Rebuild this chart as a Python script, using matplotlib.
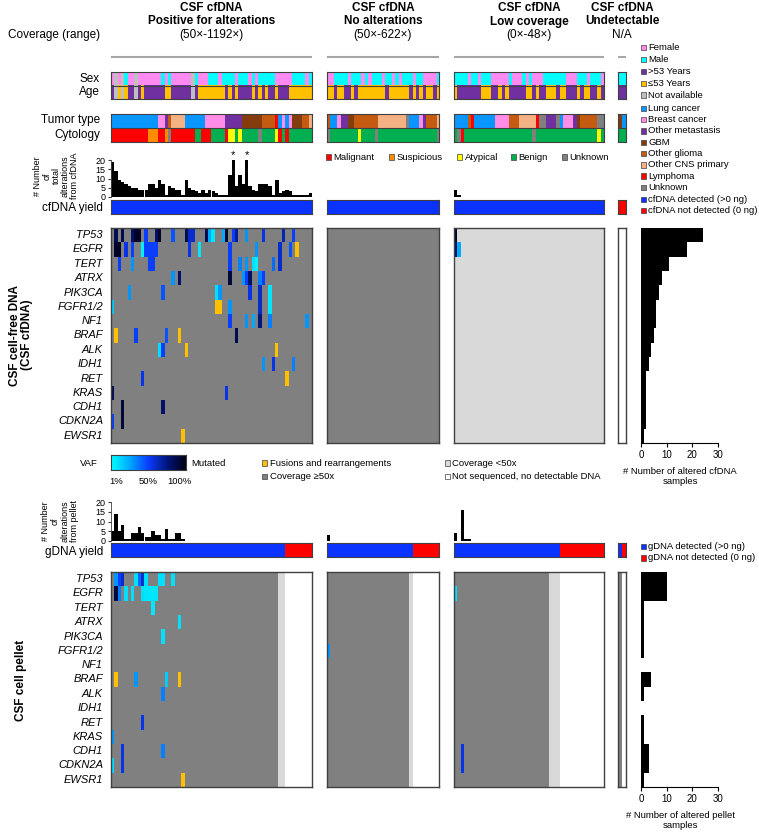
import numpy as np
import matplotlib
matplotlib.use("Agg")
import matplotlib.pyplot as plt
from matplotlib.colors import LinearSegmentedColormap, to_rgb
from matplotlib.patches import Rectangle

plt.rcParams['font.family'] = ['Liberation Sans', 'DejaVu Sans']

# ---------------------------------------------------------------- data
genes = ["TP53", "EGFR", "TERT", "ATRX", "PIK3CA", "FGFR1/2", "NF1", "BRAF",
         "ALK", "IDH1", "RET", "KRAS", "CDH1", "CDKN2A", "EWSR1"]

title_line1 = ["CSF cfDNA", "CSF cfDNA", "CSF cfDNA", "CSF cfDNA"]
title_line2 = ["Positive for alterations", "No alterations", "Low coverage", "Undetectable"]
coverage_range = ["(50×-1192×)", "(50×-622×)", "(0×-48×)", "N/A"]
n_samples = [60, 33, 44, 2]

# run-length encoded annotation tracks (code, count)
sex_runs = [
    [("F", 1), ("N", 1), ("F", 1), ("N", 1), ("M", 1), ("F", 2), ("N", 1), ("F", 7), ("M", 1), ("F", 1),
     ("M", 1), ("F", 6), ("N", 1), ("M", 1), ("F", 3), ("M", 3), ("F", 1), ("M", 4), ("F", 1), ("M", 3),
     ("F", 1), ("M", 1), ("F", 1), ("M", 5), ("F", 5), ("M", 4), ("F", 1), ("M", 1)],
    [("F", 2), ("M", 4), ("F", 1), ("M", 3), ("F", 1), ("M", 1), ("F", 1), ("M", 3), ("F", 1), ("M", 2),
     ("F", 1), ("M", 1), ("F", 1), ("M", 3), ("F", 1), ("M", 2), ("F", 4), ("M", 1)],
    [("M", 4), ("F", 1), ("M", 2), ("F", 1), ("M", 3), ("F", 5), ("M", 1), ("F", 3), ("M", 1), ("F", 1),
     ("M", 1), ("F", 3), ("M", 7), ("F", 3), ("M", 3), ("F", 1), ("M", 3), ("F", 1)],
    [("M", 2)],
]
age_runs = [
    [("O", 1), ("N", 1), ("Y", 1), ("N", 1), ("Y", 1), ("O", 2), ("N", 1), ("O", 1), ("Y", 1), ("O", 6),
     ("Y", 2), ("O", 6), ("N", 1), ("O", 1), ("Y", 8), ("O", 1), ("Y", 1), ("O", 1), ("Y", 1), ("O", 4),
     ("Y", 1), ("O", 1), ("Y", 1), ("O", 1), ("Y", 1), ("O", 2), ("Y", 1), ("O", 3), ("Y", 7)],
    [("Y", 2), ("O", 1), ("Y", 2), ("O", 2), ("Y", 1), ("O", 1), ("Y", 8), ("O", 1), ("Y", 6), ("O", 1),
     ("Y", 1), ("O", 1), ("Y", 1), ("O", 1), ("Y", 2), ("O", 1), ("Y", 1)],
    [("Y", 1), ("O", 7), ("Y", 3), ("O", 2), ("Y", 1), ("O", 1), ("Y", 1), ("O", 5), ("Y", 2), ("O", 1),
     ("Y", 1), ("O", 2), ("Y", 3), ("O", 1), ("Y", 2), ("O", 3), ("Y", 1), ("O", 1), ("Y", 2), ("O", 2),
     ("Y", 1), ("O", 1)],
    [("O", 2)],
]
tumor_runs = [
    [("Lung", 14), ("Breast", 2), ("Met", 1), ("Glioma", 1), ("CNS", 4), ("Lung", 6), ("Breast", 6),
     ("Met", 5), ("GBM", 6), ("Glioma", 4), ("Lymph", 1), ("Lung", 1), ("Breast", 1), ("Lung", 1),
     ("Breast", 1), ("GBM", 3), ("Glioma", 2), ("CNS", 1)],
    [("Glioma", 1), ("Lung", 2), ("Breast", 1), ("Met", 2), ("GBM", 2), ("Glioma", 7), ("CNS", 8),
     ("Unk", 1), ("Lung", 3), ("Breast", 1), ("Met", 1), ("Glioma", 3), ("CNS", 1)],
    [("Lung", 4), ("Glioma", 1), ("Lymph", 1), ("Lung", 6), ("Breast", 4), ("Glioma", 3), ("CNS", 5),
     ("Lymph", 1), ("Unk", 2), ("Met", 3), ("Unk", 1), ("Lung", 1), ("Breast", 3), ("Met", 1),
     ("GBM", 1), ("Glioma", 5), ("Unk", 2)],
    [("GBM", 1), ("Lung", 1)],
]
cyto_runs = [
    [("Mal", 11), ("Sus", 3), ("Mal", 2), ("Sus", 1), ("Unk", 1), ("Mal", 7), ("Ben", 2), ("Mal", 3),
     ("Ben", 4), ("Mal", 1), ("Aty", 2), ("Ben", 1), ("Aty", 1), ("Ben", 5), ("Unk", 1), ("Ben", 4),
     ("Aty", 1), ("Mal", 1), ("Ben", 1), ("Mal", 1), ("Ben", 7)],
    [("Unk", 1), ("Ben", 8), ("Aty", 1), ("Ben", 4), ("Unk", 1), ("Ben", 17), ("Unk", 1)],
    [("Ben", 1), ("Unk", 1), ("Mal", 1), ("Ben", 20), ("Unk", 1), ("Ben", 18), ("Aty", 1), ("Ben", 1)],
    [("Ben", 2)],
]
cfdna_yield_runs = [[("D", 60)], [("D", 33)], [("D", 44)], [("X", 2)]]
gdna_yield_runs = [[("D", 52), ("X", 8)], [("D", 25), ("X", 8)], [("D", 31), ("X", 13)], [("D", 1), ("X", 1)]]
cf_coverage_runs = [[("hi", 60)], [("hi", 33)], [("lo", 44)], [("none", 2)]]
pellet_coverage_runs = [[("hi", 50), ("lo", 2), ("none", 8)], [("hi", 24), ("lo", 1), ("none", 8)],
                        [("hi", 28), ("lo", 3), ("none", 13)], [("hi", 1), ("none", 1)]]

# total alterations per sample (leading samples; rest are zero)
cf_total_alt = [
    [19, 14, 9, 8, 7, 6, 5, 5, 4, 4, 4, 7, 7, 5, 9, 7, 1, 6, 5, 4, 4, 1, 9, 5, 4, 3, 2, 4, 2, 4,
     3, 2, 1, 1, 1, 12, 20, 6, 12, 7, 20, 6, 4, 3, 7, 7, 7, 6, 1, 9, 2, 3, 4, 3, 1, 1, 1, 1, 1, 2],
    [],
    [4, 1],
    [],
]
star_samples = [36, 40]
pellet_total_alt = [
    [5, 14, 5, 8, 1, 1, 4, 4, 7, 4, 2, 2, 5, 3, 3, 1, 6, 1, 1, 4, 4, 1],
    [3],
    [4, 0, 16, 1, 1],
    [],
]

# mutations: (gene, sample index, VAF % or "F" = fusion/rearrangement)
cf_mut_p1 = [
    ("TP53", 1, 85), ("TP53", 3, 85), ("TP53", 6, 80), ("TP53", 7, 95), ("TP53", 8, 95), ("TP53", 10, 50),
    ("TP53", 13, 80), ("TP53", 14, 95), ("TP53", 18, 45), ("TP53", 22, 85), ("TP53", 23, 60), ("TP53", 24, 60),
    ("TP53", 28, 85), ("TP53", 29, 25), ("TP53", 30, 8), ("TP53", 33, 25), ("TP53", 34, 95), ("TP53", 36, 50),
    ("TP53", 37, 70), ("TP53", 40, 30), ("TP53", 45, 55), ("TP53", 51, 65), ("TP53", 54, 50),
    ("EGFR", 1, 95), ("EGFR", 2, 95), ("EGFR", 4, 55), ("EGFR", 6, 50), ("EGFR", 9, 5), ("EGFR", 10, 50),
    ("EGFR", 11, 50), ("EGFR", 12, 50), ("EGFR", 13, 50), ("EGFR", 23, 55), ("EGFR", 26, 8), ("EGFR", 35, 50),
    ("EGFR", 43, 30), ("EGFR", 50, 60), ("EGFR", 53, 45), ("EGFR", 55, "F"),
    ("TERT", 2, 50), ("TERT", 6, 30), ("TERT", 11, 50), ("TERT", 12, 50), ("TERT", 35, 50), ("TERT", 38, 35),
    ("TERT", 40, 30), ("TERT", 42, 10), ("TERT", 43, 5), ("TERT", 48, 40), ("TERT", 50, 60),
    ("ATRX", 18, 30), ("ATRX", 20, 80), ("ATRX", 35, 90), ("ATRX", 39, 30), ("ATRX", 40, 50), ("ATRX", 41, 80),
    ("ATRX", 44, 35), ("ATRX", 45, 50),
    ("PIK3CA", 5, 30), ("PIK3CA", 15, 45), ("PIK3CA", 31, 10), ("PIK3CA", 32, 30), ("PIK3CA", 41, 55),
    ("PIK3CA", 44, 60), ("PIK3CA", 47, 8),
    ("FGFR1/2", 0, 15), ("FGFR1/2", 31, "F"), ("FGFR1/2", 32, "F"), ("FGFR1/2", 35, 30), ("FGFR1/2", 44, 60),
    ("FGFR1/2", 47, 8),
    ("NF1", 35, 50), ("NF1", 40, 30), ("NF1", 42, 25), ("NF1", 44, 75), ("NF1", 47, 35), ("NF1", 58, 30),
    ("BRAF", 1, "F"), ("BRAF", 7, 50), ("BRAF", 16, 45), ("BRAF", 20, "F"), ("BRAF", 37, 85),
    ("ALK", 14, 10), ("ALK", 15, 50), ("ALK", 22, "F"), ("ALK", 49, "F"),
    ("IDH1", 45, 30), ("IDH1", 48, 55), ("IDH1", 54, 35),
    ("RET", 9, 55), ("RET", 52, "F"),
    ("KRAS", 0, 85), ("KRAS", 34, 55),
    ("CDH1", 3, 90), ("CDH1", 15, 80),
    ("CDKN2A", 0, 50), ("CDKN2A", 3, 90),
    ("EWSR1", 21, "F"),
]
cf_mut_p2 = []
cf_mut_p3 = [("TP53", 0, 95), ("EGFR", 0, 80), ("EGFR", 1, 25)]
cf_mut_p4 = []

pellet_mut_p1 = [
    ("TP53", 1, 30), ("TP53", 2, 50), ("TP53", 3, 60), ("TP53", 7, 10), ("TP53", 8, 40), ("TP53", 9, 60),
    ("TP53", 10, 10), ("TP53", 14, 10), ("TP53", 15, 10), ("TP53", 18, 10),
    ("EGFR", 1, 90), ("EGFR", 2, 35), ("EGFR", 4, 10), ("EGFR", 6, 10), ("EGFR", 9, 10), ("EGFR", 10, 8),
    ("EGFR", 11, 8), ("EGFR", 12, 8), ("EGFR", 13, 8),
    ("TERT", 12, 8), ("ATRX", 20, 10), ("PIK3CA", 15, 10),
    ("BRAF", 1, "F"), ("BRAF", 7, 30), ("BRAF", 16, 15), ("BRAF", 20, "F"),
    ("ALK", 15, 35), ("RET", 9, 55), ("KRAS", 0, 30),
    ("CDH1", 3, 55), ("CDH1", 15, 35), ("CDKN2A", 0, 12), ("CDKN2A", 3, 55),
    ("EWSR1", 21, "F"),
]
pellet_mut_p2 = [("FGFR1/2", 0, 30)]
pellet_mut_p3 = [("EGFR", 0, 10), ("CDH1", 2, 55), ("CDKN2A", 2, 55)]
pellet_mut_p4 = []

cf_gene_counts = [24, 18, 11, 8, 7, 6, 6, 5, 4, 3, 2, 2, 2, 2, 1]
pellet_gene_counts = [10, 10, 1, 1, 1, 1, 0, 4, 1, 0, 1, 1, 3, 3, 1]

# ---------------------------------------------------------------- styles
sex_colors = {"F": "#FF8AF2", "M": "#00FFFF", "N": "#BFBFBF"}
age_colors = {"O": "#7030A0", "Y": "#FFC000", "N": "#BFBFBF"}
tumor_colors = {"Lung": "#0A96FF", "Breast": "#FF8CE6", "Met": "#7030A0", "GBM": "#843C0C",
                "Glioma": "#C55A11", "CNS": "#F4B183", "Lymph": "#FF0000", "Unk": "#808080"}
cyto_colors = {"Mal": "#FF0000", "Sus": "#FF8C00", "Aty": "#FFFF00", "Ben": "#00B050", "Unk": "#808080"}
yield_colors = {"D": "#0A33FF", "X": "#FF0000"}
cov_colors = {"hi": "#808080", "lo": "#D9D9D9", "none": "#FFFFFF"}
FUSION = "#FFC000"
EDGE = "#404040"
vaf_cmap = LinearSegmentedColormap.from_list(
    "vaf", ["#00FFFF", "#00A8FF", "#0A3CFF", "#00157A", "#000014"])

W, H = 759, 836
fig = plt.figure(figsize=(W / 100, H / 100), dpi=100)


def px_axes(x0, y0, x1, y1, z=1):
    return fig.add_axes([x0 / W, 1 - y1 / H, (x1 - x0) / W, (y1 - y0) / H], zorder=z)


def expand(runs):
    return [c for c, k in runs for _ in range(k)]


def style_box(ax, lw=0.8, color=EDGE):
    ax.set_xticks([])
    ax.set_yticks([])
    for s in ax.spines.values():
        s.set_color(color)
        s.set_linewidth(lw)


def draw_rows(ax, rows, palettes, n):
    img = np.array([[to_rgb(pal[c]) for c in row] for row, pal in zip(rows, palettes)])
    ax.imshow(img, aspect="auto", interpolation="nearest", extent=(0, n, len(rows), 0))
    for k in range(1, len(rows)):
        ax.axhline(k, color=EDGE, lw=0.8)
    ax.set_xlim(0, n)
    ax.set_ylim(len(rows), 0)
    style_box(ax)


def vaf_color(v):
    if v == "F":
        return to_rgb(FUSION)
    return vaf_cmap(np.clip((v - 1) / 99.0, 0, 1))[:3]


def draw_heat(ax, cov_runs, muts, n):
    cov = expand(cov_runs)
    img = np.array([[to_rgb(cov_colors[c]) for c in cov] for _ in genes])
    for g, c, v in muts:
        img[genes.index(g), c] = vaf_color(v)
    ax.imshow(img, aspect="auto", interpolation="nearest", extent=(0, n, len(genes), 0))
    ax.set_xlim(0, n)
    ax.set_ylim(len(genes), 0)
    style_box(ax, lw=1.0)


def draw_bars(ax, vals_list, n, show_axis):
    vals = np.zeros(n)
    vals[:len(vals_list)] = vals_list
    ax.bar(np.arange(n), vals, width=1.0, align="edge", color="black", linewidth=0)
    ax.set_xlim(0, n)
    ax.set_ylim(0, 20)
    ax.patch.set_alpha(0)
    for s in ax.spines.values():
        s.set_visible(False)
    ax.set_xticks([])
    if show_axis:
        ax.spines["left"].set_visible(True)
        ax.spines["left"].set_color(EDGE)
        ax.spines["left"].set_linewidth(0.6)
        ax.set_yticks([0, 5, 10, 15, 20])
        ax.tick_params(axis="y", labelsize=6.5, length=2, pad=2, color=EDGE)
    else:
        ax.set_yticks([])


panel_x = [(111, 312), (327, 439), (454, 604), (618, 626)]
cf_muts = [cf_mut_p1, cf_mut_p2, cf_mut_p3, cf_mut_p4]
pellet_muts = [pellet_mut_p1, pellet_mut_p2, pellet_mut_p3, pellet_mut_p4]

for p in range(4):
    x0, x1 = panel_x[p]
    n = n_samples[p]
    # sex / age
    ax = px_axes(x0, 72, x1, 99)
    draw_rows(ax, [expand(sex_runs[p]), expand(age_runs[p])], [sex_colors, age_colors], n)
    # tumor / cytology
    ax = px_axes(x0, 114, x1, 142)
    draw_rows(ax, [expand(tumor_runs[p]), expand(cyto_runs[p])], [tumor_colors, cyto_colors], n)
    # cfDNA alteration bars
    ax = px_axes(x0, 160, x1, 197)
    draw_bars(ax, cf_total_alt[p], n, p == 0)
    if p == 0:
        for c in star_samples:
            ax.text(c + 0.5, cf_total_alt[0][c] + 0.2, "*", ha="center", va="bottom",
                    fontsize=8, clip_on=False)
    # cfDNA yield
    ax = px_axes(x0, 200, x1, 214)
    draw_rows(ax, [expand(cfdna_yield_runs[p])], [yield_colors], n)
    # cfDNA heatmap
    ax = px_axes(x0, 228, x1, 443)
    draw_heat(ax, cf_coverage_runs[p], cf_muts[p], n)
    # pellet bars
    ax = px_axes(x0, 502, x1, 541)
    draw_bars(ax, pellet_total_alt[p], n, p == 0)
    # gDNA yield
    ax = px_axes(x0, 543, x1, 557)
    draw_rows(ax, [expand(gdna_yield_runs[p])], [yield_colors], n)
    # pellet heatmap
    ax = px_axes(x0, 572, x1, 787)
    draw_heat(ax, pellet_coverage_runs[p], pellet_muts[p], n)


def right_bars(y0, y1, counts):
    ax = px_axes(641, y0, 718, y1)
    ax.barh(np.arange(len(genes)), counts, height=1.0, align="edge", color="black", linewidth=0)
    ax.set_ylim(len(genes), 0)
    ax.set_xlim(0, 30)
    for s in ["top", "right", "left"]:
        ax.spines[s].set_visible(False)
    ax.spines["bottom"].set_color("black")
    ax.spines["bottom"].set_linewidth(0.8)
    ax.set_yticks([])
    ax.set_xticks([0, 10, 20, 30])
    ax.tick_params(axis="x", labelsize=7, length=3, pad=2)
    ax.patch.set_alpha(0)


right_bars(228, 443, cf_gene_counts)
right_bars(572, 787, pellet_gene_counts)

# VAF colour bar
axc = px_axes(111, 455, 186, 470)
axc.imshow(np.linspace(0, 1, 256)[None, :], aspect="auto", cmap=vaf_cmap, extent=(0, 1, 0, 1))
style_box(axc)

# ---------------------------------------------------------------- overlay text
ov = fig.add_axes([0, 0, 1, 1], zorder=5)
ov.set_xlim(0, W)
ov.set_ylim(H, 0)
ov.axis("off")
ov.patch.set_alpha(0)

FS = 8.5
centers = [211.5, 383, 529, 622]
for p in range(4):
    cx = centers[p]
    ov.text(cx, 8, title_line1[p], ha="center", va="center", fontsize=FS, fontweight="bold")
    ov.text(cx, 21.5, title_line2[p], ha="center", va="center", fontsize=FS, fontweight="bold")
    ov.text(cx, 35, coverage_range[p], ha="center", va="center", fontsize=FS)
    x0, x1 = panel_x[p]
    ov.plot([x0, x1], [57, 57], color="#A6A6A6", lw=1.5, solid_capstyle="butt")

ov.text(100, 35, "Coverage (range)", ha="right", va="center", fontsize=FS)
ov.text(100, 78.5, "Sex", ha="right", va="center", fontsize=FS)
ov.text(100, 92, "Age", ha="right", va="center", fontsize=FS)
ov.text(100, 120.5, "Tumor type", ha="right", va="center", fontsize=FS)
ov.text(100, 135, "Cytology", ha="right", va="center", fontsize=FS)
ov.text(103, 208.5, "cfDNA yield", ha="right", va="center", fontsize=FS)
ov.text(103, 551.5, "gDNA yield", ha="right", va="center", fontsize=FS)
ov.text(56, 176, "# Number\nof\ntotal\nalterations\nfrom cfDNA", ha="center", va="center",
        rotation=90, fontsize=6.5, linespacing=1.05)
ov.text(60, 521, "# Number\nof\nalterations\nfrom pellet", ha="center", va="center",
        rotation=90, fontsize=6.5, linespacing=1.05)

row_h = 215 / 15.0
for i, g in enumerate(genes):
    ov.text(103, 228 + row_h * (i + 0.5), g, ha="right", va="center", fontsize=8, style="italic")
    ov.text(103, 572 + row_h * (i + 0.5), g, ha="right", va="center", fontsize=8, style="italic")

ov.text(21, 335, "CSF cell-free DNA\n(CSF cfDNA)", ha="center", va="center", rotation=90,
        fontsize=FS, fontweight="bold", linespacing=1.1)
ov.text(21, 680, "CSF cell pellet", ha="center", va="center", rotation=90,
        fontsize=FS, fontweight="bold")

LFS = 6.8


def legend_item(x, y, color, label):
    ov.add_patch(Rectangle((x, y - 2.7), 5.4, 5.4, facecolor=color, edgecolor=EDGE, lw=0.5))
    ov.text(x + 7.5, y, label, ha="left", va="center", fontsize=LFS)


right_legend = [
    (47.7, sex_colors["F"], "Female"), (59.5, sex_colors["M"], "Male"),
    (71.4, age_colors["O"], ">53 Years"), (83.2, age_colors["Y"], "≤53 Years"),
    (95.0, "#BFBFBF", "Not available"),
    (108.3, tumor_colors["Lung"], "Lung cancer"), (119.6, tumor_colors["Breast"], "Breast cancer"),
    (130.9, tumor_colors["Met"], "Other metastasis"), (142.2, tumor_colors["GBM"], "GBM"),
    (153.5, tumor_colors["Glioma"], "Other glioma"), (164.8, tumor_colors["CNS"], "Other CNS primary"),
    (176.1, tumor_colors["Lymph"], "Lymphoma"), (187.4, tumor_colors["Unk"], "Unknown"),
    (199.2, yield_colors["D"], "cfDNA detected (>0 ng)"), (210.5, yield_colors["X"], "cfDNA not detected (0 ng)"),
    (546.5, yield_colors["D"], "gDNA detected (>0 ng)"), (558.0, yield_colors["X"], "gDNA not detected (0 ng)"),
]
for y, c, lab in right_legend:
    legend_item(641, y, c, lab)

cyto_legend = [(326, cyto_colors["Mal"], "Malignant"), (389, cyto_colors["Sus"], "Suspicious"),
               (457, cyto_colors["Aty"], "Atypical"), (511, cyto_colors["Ben"], "Benign"),
               (562, cyto_colors["Unk"], "Unknown")]
for x, c, lab in cyto_legend:
    legend_item(x, 157, c, lab)

ov.text(98, 463, "VAF", ha="right", va="center", fontsize=LFS)
ov.text(191, 463, "Mutated", ha="left", va="center", fontsize=LFS)
for x, lab in [(116, "1%"), (148, "50%"), (179, "100%")]:
    ov.text(x, 481.5, lab, ha="center", va="center", fontsize=LFS)
legend_item(262, 463, FUSION, "Fusions and rearrangements")
legend_item(262, 476.5, cov_colors["hi"], "Coverage ≥50x")
legend_item(445, 463, cov_colors["lo"], "Coverage <50x")
legend_item(445, 476.5, cov_colors["none"], "Not sequenced, no detectable DNA")

ov.text(680, 471, "# Number of altered cfDNA", ha="center", va="center", fontsize=LFS)
ov.text(680, 482, "samples", ha="center", va="center", fontsize=LFS)
ov.text(680, 815, "# Number of altered pellet", ha="center", va="center", fontsize=LFS)
ov.text(680, 826, "samples", ha="center", va="center", fontsize=LFS)

fig.savefig("out.png", dpi=100)
